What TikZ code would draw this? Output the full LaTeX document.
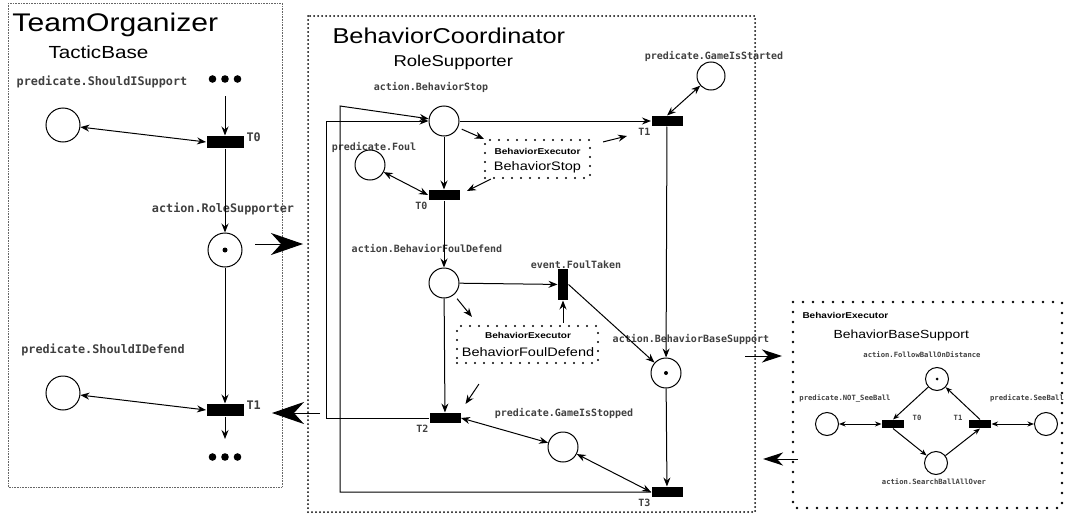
\documentclass[tikz,border=0pt]{standalone}
\usepackage{fontspec}
\setmainfont{Liberation Sans}[FakeStretch=1.18]
\newfontfamily\lblfamily{DejaVu Sans Mono}
\usetikzlibrary{positioning}
\usetikzlibrary{arrows.meta}
\tikzset{placenode/.style = {draw, circle, inner sep = 0, minimum size = 30pt}}
\tikzset{transbar/.style = {fill, rectangle, inner sep = 0, minimum width = 31pt, minimum height = 10pt}}
\tikzset{tokendot/.style = {fill, circle, inner sep = 0, minimum size = 4pt}}
\tikzset{lbl/.style = {font = \lblfamily\bfseries\fontsize{10}{10}\selectfont, text = black!75, inner sep = 0}}
\tikzset{biglbl/.style = {lbl, font = \lblfamily\bfseries\fontsize{11.8}{12}\selectfont}}
\tikzset{smalllbl/.style = {lbl, font = \lblfamily\bfseries\fontsize{7.2}{8}\selectfont}}
\tikzset{flow/.style = {-{Stealth[length = 9pt, width = 7pt, inset = 3pt]}}}
\tikzset{biflow/.style = {{Stealth[length = 9pt, width = 7pt, inset = 3pt]}-{Stealth[length = 9pt, width = 7pt, inset = 3pt]}}}
\tikzset{smallflow/.style = {-{Stealth[length = 6.5pt, width = 5pt, inset = 2pt]}}}
\tikzset{smallbiflow/.style = {{Stealth[length = 6.5pt, width = 5pt, inset = 2pt]}-{Stealth[length = 6.5pt, width = 5pt, inset = 2pt]}}}
\tikzset{bigflow/.style = {-{Stealth[length = 32pt, width = 22pt, inset = 10pt]}}}
\tikzset{midflow/.style = {-{Stealth[length = 20pt, width = 13pt, inset = 6pt]}}}
\tikzset{exebox/.style = {draw, dash pattern = on 0pt off 9pt, line cap = round, line width = 2.2pt, inner sep = 0}}
\tikzset{exehead/.style = {font = \fontsize{8.5}{9}\selectfont\bfseries, inner sep = 0}}
\tikzset{exename/.style = {font = \fontsize{12.3}{13}\selectfont, inner sep = 0}}

\begin{document}
\begin{tikzpicture}[x = 1pt, y = -1pt, line width = 1pt]
    \useasboundingbox (0,0) rectangle (1066,514);
    % panels
    \draw[densely dotted, line width = 0.6pt, black!60] (8,3) rectangle (282,487);
    \draw[dash pattern = on 0pt off 4pt, line cap = round, line width = 2pt] (308,16) rectangle (755,512);
    \draw[dash pattern = on 0pt off 10pt, line cap = round, line width = 2.6pt] (793,302) rectangle (1062,508);

    % TeamOrganizer
    \node[anchor = base west, font = \fontsize{25.5}{26}\selectfont, inner sep = 0] (teamTitle) at (12,31) {TeamOrganizer};
    \node[anchor = base west, font = \fontsize{17.5}{18}\selectfont, inner sep = 0] (teamNet) at (48,58.5) {TacticBase};
    \node[placenode, minimum size = 34pt] (pSupport) at (63,125) {};
    \node[transbar, minimum width = 37pt, minimum height = 12pt] (lT0) at (225,142) {};
    \node[placenode, minimum size = 34pt] (aRole) at (225,250) {};
    \node[tokendot, minimum size = 5pt] (aRoleTok) at (aRole) {};
    \node[transbar, minimum width = 37pt, minimum height = 12pt] (lT1) at (225,410) {};
    \node[placenode, minimum size = 34pt] (pDefend) at (63,393) {};
    \node[biglbl] (lblSupport) at (102,82) {predicate.ShouldISupport};
    \node[biglbl] (lblRole) at (223,209) {action.RoleSupporter};
    \node[biglbl] (lblDefend) at (103,350) {predicate.ShouldIDefend};
    \node[biglbl, anchor = west] (lblLT0) at ([xshift = 2pt, yshift = 5pt]lT0.east) {T0};
    \node[biglbl, anchor = west] (lblLT1) at ([xshift = 2pt, yshift = 5pt]lT1.east) {T1};
    \foreach \x in {212.5, 225, 237.5} {
        \fill (\x,79) circle (3.8pt); % more of the net
        \fill (\x,457) circle (3.8pt);
    }
    \coordinate (topIn) at (225,96);
    \coordinate (botOut) at (225,439);
    \draw[flow] (topIn) -- (lT0);
    \draw[biflow] (pSupport) -- (lT0.west);
    \draw[flow] (lT0) -- (aRole);
    \draw[flow] (aRole) -- (lT1);
    \draw[biflow] (pDefend) -- (lT1.west);
    \draw[flow] (lT1) -- (botOut);

    % between the panels
    \coordinate (toMidA) at (255,244);
    \coordinate (toMidB) at (303,244);
    \coordinate (fromMidA) at (320,413);
    \coordinate (fromMidB) at (272,413);
    \coordinate (toExeA) at (745,356);
    \coordinate (toExeB) at (782,356);
    \coordinate (fromExeA) at (798,459);
    \coordinate (fromExeB) at (763,459);
    \draw[bigflow] (toMidA) -- (toMidB);
    \draw[bigflow] (fromMidA) -- (fromMidB);
    \draw[midflow] (toExeA) -- (toExeB);
    \draw[midflow] (fromExeA) -- (fromExeB);

    % BehaviorCoordinator
    \node[anchor = base west, font = \fontsize{21.5}{22}\selectfont, inner sep = 0] (coordTitle) at (332,43.3) {BehaviorCoordinator};
    \node[anchor = base west, font = \fontsize{15.7}{16}\selectfont, inner sep = 0] (coordNet) at (393,66.7) {RoleSupporter};
    \node[placenode] (aStop) at (444,121) {};
    \node[placenode] (pFoul) at (370,165) {};
    \node[transbar] (mT0) at (444,195) {};
    \node[transbar] (mT1) at (667,121) {};
    \node[placenode, minimum size = 28pt] (pStarted) at (711,76) {};
    \node[placenode] (aFoulDef) at (444,283) {};
    \node[transbar, minimum width = 10pt, minimum height = 31pt] (eFoul) at (563,284.5) {};
    \node[placenode] (aBase) at (666,373) {};
    \node[tokendot] (aBaseTok) at (aBase) {};
    \node[transbar] (mT2) at (445,418) {};
    \node[placenode] (pStopped) at (563,447) {};
    \node[transbar] (mT3) at (667,492) {};

    \node[exebox, minimum width = 105pt, minimum height = 38pt] (exStop) at (537.5,159) {};
    \node[exehead] (exStopHead) at (537.5,151) {BehaviorExecutor};
    \node[exename] (exStopName) at (537.5,167) {BehaviorStop};
    \node[exebox, minimum width = 141pt, minimum height = 37pt] (exFoul) at (527.5,344.5) {};
    \node[exehead] (exFoulHead) at (528,335) {BehaviorExecutor};
    \node[exename] (exFoulName) at (528,352) {BehaviorFoulDefend};

    \node[lbl] (lblStop) at (431,87) {action.BehaviorStop};
    \node[lbl] (lblFoul) at (374,147) {predicate.Foul};
    \node[lbl] (lblStarted) at (714,56) {predicate.GameIsStarted};
    \node[lbl] (lblFoulDef) at (427,249) {action.BehaviorFoulDefend};
    \node[lbl, anchor = south] (lblTaken) at (576,269) {event.FoulTaken};
    \node[lbl] (lblBase) at (691,339) {action.BehaviorBaseSupport};
    \node[lbl] (lblStopped) at (564,413) {predicate.GameIsStopped};
    \node[lbl, anchor = north east] (lblMT0) at ([yshift = -1.5pt]mT0.south west) {T0};
    \node[lbl, anchor = north east] (lblMT1) at ([yshift = -1.5pt]mT1.south west) {T1};
    \node[lbl, anchor = north east] (lblMT2) at ([yshift = -1.5pt]mT2.south west) {T2};
    \node[lbl, anchor = north east] (lblMT3) at ([yshift = -1.5pt]mT3.south west) {T3};

    \coordinate (loopA) at (340,106);
    \coordinate (loopB) at (326,121);
    \draw[flow] (mT3.west) -| (loopA) -- (aStop);
    \draw[flow] (mT2.west) -| (loopB) -- (aStop);
    \draw[flow] (aStop) -- (mT1);
    \draw[flow] (aStop) -- (mT0);
    \draw[biflow] (pFoul) -- (mT0.west);
    \draw[biflow] (pStarted) -- (mT1.north);
    \draw[flow] (mT1) -- (aBase);
    \draw[flow] (aBase) -- (mT3);
    \draw[flow] (mT0) -- (aFoulDef);
    \draw[flow] (aFoulDef) -- (eFoul);
    \draw[flow] (eFoul.east) -- (aBase);
    \draw[flow] (aFoulDef) -- (mT2);
    \draw[biflow] (mT2.east) -- (pStopped);
    \draw[biflow] (pStopped) -- (mT3.west);
    \draw[flow, shorten <= 4pt] (aStop.-25) -- (exStop.north west);
    \draw[flow] ([xshift = 7pt]exStop.south west) -- ([xshift = 7pt, yshift = 4pt]mT0.east);
    \draw[flow] ([xshift = 12pt, yshift = -3pt]exStop.north east) -- ([xshift = -24pt, yshift = -15pt]mT1.west);
    \draw[flow, shorten <= 5pt] (aFoulDef.-50) -- ([xshift = 16pt, yshift = 8pt]exFoul.north west);
    \draw[flow] ([yshift = 2pt]eFoul.south |- exFoul.north) -- (eFoul.south);
    \draw[flow] ([xshift = 23pt, yshift = -20pt]exFoul.south west) -- ([xshift = 4.5pt, yshift = 8.5pt]mT2.north east);

    % BehaviorExecutor
    \node[anchor = base west, font = \fontsize{8.5}{9}\selectfont\bfseries, inner sep = 0] (exeTitle) at (802,318) {BehaviorExecutor};
    \node[anchor = base west, font = \fontsize{11.8}{12}\selectfont, inner sep = 0] (exeNet) at (833,338) {BehaviorBaseSupport};
    \node[placenode, minimum size = 23pt] (aFollow) at (937,379) {};
    \node[tokendot, minimum size = 3pt] (aFollowTok) at (aFollow) {};
    \node[placenode, minimum size = 23pt] (pNotSee) at (827,424) {};
    \node[transbar, minimum width = 22pt, minimum height = 8pt] (rT0) at (893,424) {};
    \node[transbar, minimum width = 22pt, minimum height = 8pt] (rT1) at (980,424) {};
    \node[placenode, minimum size = 23pt] (pSee) at (1046,424) {};
    \node[placenode, minimum size = 23pt] (aSearch) at (936,463) {};
    \node[smalllbl] (lblFollow) at (922,355) {action.FollowBallOnDistance};
    \node[smalllbl] (lblNotSee) at (845,398) {predicate.NOT\_SeeBall};
    \node[smalllbl] (lblSee) at (1027,398) {predicate.SeeBall};
    \node[smalllbl] (lblSearch) at (934,482) {action.SearchBallAllOver};
    \node[smalllbl] (lblRT0) at (917,418) {T0};
    \node[smalllbl] (lblRT1) at (958,418) {T1};
    \draw[smallflow] (aFollow) -- (rT0.north);
    \draw[smallflow] (rT0.south) -- (aSearch);
    \draw[smallflow] (aSearch) -- (rT1.south);
    \draw[smallflow] (rT1.north) -- (aFollow);
    \draw[smallbiflow] (pNotSee) -- (rT0);
    \draw[smallbiflow] (rT1) -- (pSee);
\end{tikzpicture}
\end{document}
